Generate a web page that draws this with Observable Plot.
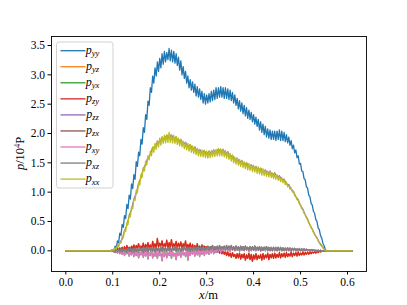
<!DOCTYPE html>
<html><head><meta charset="utf-8">
<script src="https://cdn.jsdelivr.net/npm/d3@7"></script>
<script src="https://cdn.jsdelivr.net/npm/@observablehq/plot@0.6"></script>
<style>
body{margin:0;background:#fff} svg{display:block}
#chart svg text, #chart svg tspan { font-family: 'Liberation Serif', 'DejaVu Serif', serif !important; }
</style>
</head><body><div id="chart"></div>
<script>
// sampling: flat zero from xFirst to xStart, samples every step, flat zero up to xEnd
const xFirst = 0.0, xStart = 0.095, xEnd = 0.61;
const stepFine = 0.0025, stepCoarse = 0.005;
const xTicks = [0.0, 0.1, 0.2, 0.3, 0.4, 0.5, 0.6];
const yTicks = [0.0, 0.5, 1.0, 1.5, 2.0, 2.5, 3.0, 3.5];
const seriesNames = ["yy","yz","yx","zy","zz","zx","xy","xz","xx"];
const seriesColors = ["#1f77b4","#ff7f0e","#2ca02c","#d62728","#9467bd","#8c564b","#e377c2","#7f7f7f","#bcbd22"];

// fine sampling (0.0025)
const p_yy = [0.00,0.00,0.02,0.01,0.08,0.05,0.17,0.14,0.30,0.26,
0.45,0.40,0.60,0.55,0.79,0.72,0.95,0.88,1.14,1.06,
1.30,1.22,1.52,1.44,1.68,1.62,1.90,1.82,2.10,2.02,
2.32,2.24,2.55,2.48,2.78,2.70,2.98,2.86,3.12,2.98,
3.22,3.06,3.28,3.12,3.36,3.18,3.40,3.22,3.38,3.26,
3.45,3.24,3.42,3.22,3.40,3.20,3.36,3.16,3.30,3.08,
3.24,3.00,3.14,2.94,3.06,2.86,2.98,2.78,2.92,2.74,
2.88,2.70,2.84,2.64,2.80,2.62,2.76,2.58,2.72,2.52,
2.68,2.50,2.66,2.52,2.68,2.54,2.72,2.56,2.74,2.58,
2.78,2.60,2.78,2.62,2.80,2.62,2.78,2.60,2.78,2.60,
2.76,2.58,2.74,2.56,2.70,2.52,2.66,2.48,2.60,2.42,
2.56,2.38,2.52,2.34,2.48,2.30,2.44,2.26,2.40,2.24,
2.36,2.20,2.32,2.16,2.28,2.12,2.24,2.06,2.20,2.02,
2.16,1.98,2.12,1.94,2.08,1.92,2.06,1.90,2.04,1.90,
2.04,1.88,2.04,1.90,2.06,1.88,2.04,1.88,2.02,1.86,
1.98,1.84,1.94,1.80,1.88,1.74,1.80,1.67,1.72,1.59,
1.62,1.48,1.49,1.36,1.35,1.23,1.21,1.09,1.07,0.95,
0.92,0.81,0.78,0.67,0.64,0.53,0.50,0.39,0.36,0.26,
0.22,0.13,0.09,0.03,0.00];
const p_xx = [0.00,0.00,0.02,0.01,0.05,0.03,0.09,0.07,0.15,0.13,
0.24,0.22,0.35,0.33,0.48,0.45,0.61,0.58,0.75,0.72,
0.89,0.86,1.03,0.99,1.16,1.12,1.30,1.25,1.42,1.36,
1.53,1.46,1.62,1.55,1.70,1.62,1.77,1.68,1.83,1.73,
1.88,1.77,1.92,1.80,1.95,1.83,1.97,1.84,1.98,1.85,
2.02,1.85,1.98,1.84,1.97,1.83,1.95,1.81,1.92,1.79,
1.90,1.77,1.87,1.74,1.85,1.72,1.83,1.70,1.81,1.68,
1.79,1.66,1.77,1.64,1.75,1.62,1.73,1.61,1.72,1.60,
1.71,1.59,1.70,1.58,1.70,1.59,1.71,1.60,1.72,1.61,
1.73,1.62,1.74,1.62,1.74,1.62,1.73,1.60,1.71,1.58,
1.69,1.56,1.66,1.53,1.63,1.50,1.60,1.48,1.58,1.46,
1.56,1.44,1.54,1.42,1.52,1.40,1.50,1.38,1.49,1.37,
1.47,1.35,1.46,1.34,1.44,1.32,1.43,1.31,1.41,1.29,
1.40,1.28,1.38,1.27,1.36,1.26,1.35,1.25,1.33,1.23,
1.32,1.22,1.30,1.20,1.27,1.18,1.25,1.16,1.21,1.13,
1.17,1.09,1.12,1.05,1.07,1.00,1.01,0.94,0.93,0.87,
0.86,0.80,0.78,0.72,0.70,0.64,0.62,0.56,0.53,0.47,
0.45,0.39,0.37,0.31,0.29,0.24,0.22,0.17,0.15,0.10,
0.08,0.05,0.03,0.01,0.00];
const p_zy = [0.00,0.00,0.01,-0.02,0.03,-0.01,0.04,0.00,0.05,-0.01,
0.06,0.01,0.07,0.00,0.09,0.02,0.06,-0.01,0.08,0.03,
0.10,0.02,0.09,0.04,0.12,0.03,0.08,0.05,0.13,0.02,
0.11,0.04,0.14,0.05,0.10,0.03,0.16,0.06,0.12,0.04,
0.21,0.06,0.13,0.08,0.17,0.05,0.12,0.07,0.18,0.04,
0.14,0.06,0.19,0.05,0.12,0.08,0.16,0.04,0.13,0.07,
0.15,0.04,0.12,0.06,0.17,0.03,0.11,0.05,0.13,0.02,
0.11,0.04,0.09,0.02,0.12,0.03,0.08,0.01,0.10,0.02,
0.08,0.00,0.07,0.02,0.06,-0.01,0.07,0.01,0.04,-0.02,
0.05,-0.02,0.03,-0.04,0.02,-0.05,0.00,-0.06,-0.01,-0.08,
-0.02,-0.09,-0.04,-0.11,-0.03,-0.10,-0.06,-0.13,-0.05,-0.12,
-0.04,-0.14,-0.06,-0.12,-0.05,-0.16,-0.07,-0.13,-0.04,-0.15,
-0.06,-0.18,-0.07,-0.14,-0.05,-0.15,-0.08,-0.13,-0.06,-0.16,
-0.05,-0.14,-0.07,-0.12,-0.04,-0.15,-0.06,-0.12,-0.05,-0.13,
-0.04,-0.12,-0.06,-0.11,-0.03,-0.12,-0.05,-0.10,-0.04,-0.11,
-0.03,-0.10,-0.05,-0.09,-0.02,-0.10,-0.04,-0.08,-0.03,-0.09,
-0.02,-0.08,-0.04,-0.07,-0.02,-0.07,-0.03,-0.06,-0.02,-0.06,
-0.02,-0.05,-0.02,-0.04,-0.01,-0.04,-0.01,-0.03,-0.01,-0.02,
-0.01,-0.01,0.00,0.00,0.00];
const p_xy = [0.00,0.00,-0.01,0.01,-0.03,0.00,-0.04,0.01,-0.05,-0.01,
-0.06,0.00,-0.08,-0.02,-0.05,0.01,-0.09,-0.02,-0.07,0.00,
-0.10,-0.01,-0.08,0.00,-0.12,-0.03,-0.07,0.01,-0.11,-0.02,
-0.09,0.00,-0.14,-0.03,-0.08,0.01,-0.12,-0.04,-0.09,0.00,
-0.13,-0.02,-0.08,-0.04,-0.17,-0.01,-0.10,0.00,-0.12,-0.03,
-0.08,0.01,-0.13,-0.02,-0.09,-0.04,-0.15,0.00,-0.08,-0.02,
-0.11,0.01,-0.07,-0.03,-0.10,0.02,-0.16,-0.01,-0.08,0.01,
-0.06,0.02,-0.09,-0.01,-0.07,0.03,-0.10,0.00,-0.06,0.02,
-0.08,0.01,-0.05,0.03,-0.06,0.02,-0.04,0.04,-0.05,0.02,
-0.03,0.04,-0.02,0.05,-0.03,0.06,-0.01,0.05,0.00,0.07,
0.00,0.06,-0.01,0.07,0.01,0.05,0.00,0.08,0.01,0.06,
-0.01,0.07,0.01,0.06,0.00,0.08,0.01,0.05,-0.01,0.07,
0.00,0.06,0.01,0.08,0.00,0.05,0.02,0.07,0.00,0.06,
0.01,0.06,0.00,0.07,0.01,0.05,0.00,0.06,0.01,0.05,
0.00,0.06,0.01,0.05,0.00,0.06,0.01,0.04,0.00,0.05,
0.01,0.04,0.00,0.05,0.01,0.04,0.00,0.04,0.01,0.03,
0.00,0.04,0.01,0.03,0.00,0.03,0.01,0.03,0.00,0.02,
0.01,0.02,0.00,0.02,0.00,0.01,0.00,0.01,0.00,0.01,
0.00,0.00,0.00,0.00,0.00];
const p_xz = [0.00,0.01,-0.01,0.02,-0.02,0.02,-0.01,0.03,-0.02,0.03,
-0.02,0.04,-0.01,0.03,-0.03,0.04,-0.01,0.05,-0.02,0.04,
-0.03,0.05,-0.01,0.04,-0.02,0.06,0.00,0.04,-0.03,0.05,
-0.01,0.06,-0.02,0.05,0.00,0.06,-0.01,0.05,-0.02,0.06,
0.00,0.05,-0.02,0.06,-0.01,0.07,0.00,0.05,-0.01,0.06,
0.00,0.06,-0.01,0.05,0.01,0.07,-0.01,0.06,0.00,0.05,
-0.01,0.06,0.00,0.07,0.01,0.05,0.00,0.06,-0.01,0.06,
0.00,0.07,0.01,0.06,0.00,0.07,0.01,0.06,0.01,0.08,
0.01,0.07,0.02,0.08,0.01,0.07,0.02,0.09,0.01,0.07,
0.02,0.08,0.01,0.09,0.02,0.07,0.03,0.08,0.02,0.09,
0.02,0.08,0.03,0.09,0.02,0.07,0.01,0.08,0.02,0.07,
0.01,0.08,0.02,0.07,0.01,0.08,0.02,0.06,0.01,0.07,
0.02,0.07,0.01,0.08,0.02,0.06,0.01,0.07,0.00,0.06,
0.01,0.06,0.02,0.07,0.00,0.06,0.01,0.05,0.00,0.06,
0.01,0.05,0.00,0.06,0.01,0.05,0.00,0.05,0.01,0.04,
0.00,0.05,0.01,0.04,0.00,0.04,0.01,0.04,0.00,0.03,
0.01,0.03,0.00,0.03,0.01,0.03,0.00,0.02,0.01,0.02,
0.00,0.02,0.01,0.02,0.00,0.01,0.00,0.01,0.00,0.01,
0.00,0.00,0.00,0.00,0.00];
// coarse sampling (0.005), mostly hidden beneath p_xx
const p_zz = [0.00,0.01,0.04,0.06,0.14,0.20,0.34,0.43,0.60,0.70,
0.88,0.98,1.15,1.24,1.40,1.47,1.60,1.64,1.76,1.77,
1.86,1.85,1.93,1.90,1.97,1.92,1.98,1.90,1.94,1.86,
1.90,1.81,1.85,1.77,1.81,1.73,1.77,1.69,1.73,1.66,
1.71,1.64,1.70,1.65,1.72,1.67,1.74,1.68,1.73,1.65,
1.69,1.60,1.63,1.54,1.58,1.50,1.54,1.46,1.50,1.43,
1.47,1.40,1.44,1.37,1.41,1.34,1.38,1.31,1.36,1.28,
1.33,1.25,1.28,1.21,1.22,1.14,1.13,1.05,1.01,0.92,
0.87,0.77,0.71,0.61,0.54,0.44,0.37,0.28,0.22,0.14,
0.09,0.03,0.00];
// symmetric components, hidden beneath their partners in the picture
const p_yz = p_zy, p_yx = p_xy, p_zx = p_xz;

const seriesValues = {yy:p_yy, yz:p_yz, yx:p_yx, zy:p_zy, zz:p_zz, zx:p_zx, xy:p_xy, xz:p_xz, xx:p_xx};
const seriesStep = {yy:stepFine, yz:stepFine, yx:stepFine, zy:stepFine, zz:stepCoarse, zx:stepFine, xy:stepFine, xz:stepFine, xx:stepFine};

function toRows(name) {
  const step = seriesStep[name];
  const rows = [{x: xFirst, y: 0}];
  seriesValues[name].forEach((v, i) => rows.push({x: xStart + i * step, y: v}));
  rows.push({x: xEnd, y: 0});
  return rows;
}

const font = "'Liberation Serif', 'DejaVu Serif', serif";
const lineMarks = seriesNames.map((n, i) =>
  Plot.line(toRows(n), {x: "x", y: "y", stroke: seriesColors[i], strokeWidth: 1.3}));

const chart = Plot.plot({
  width: 407, height: 305,
  marginLeft: 51, marginRight: 41, marginTop: 36, marginBottom: 34,
  style: {fontFamily: font, fontSize: "11px", color: "black", background: "white"},
  x: {domain: [-0.0305, 0.6405]},
  y: {domain: [-0.353, 3.654]},
  marks: [
    ...lineMarks,
    Plot.frame({stroke: "black", strokeWidth: 0.9}),
    Plot.axisX({ticks: xTicks, tickFormat: d3.format(".1f"), tickSize: 3.5, tickPadding: 3, label: null, fontSize: 11.5}),
    Plot.axisY({ticks: yTicks, tickFormat: d3.format(".1f"), tickSize: 3.5, tickPadding: 3, label: null, fontSize: 11.5})
  ]
});
document.getElementById("chart").appendChild(chart);

const svg = d3.select(chart);
// axis labels
const xl = svg.append("text").attr("x", 208.5).attr("y", 299).attr("text-anchor", "middle")
  .attr("font-size", 12.5);
xl.append("tspan").attr("font-style", "italic").text("x");
xl.append("tspan").text("/m");

const yl = svg.append("text").attr("transform", "translate(24,153.4) rotate(-90)").attr("text-anchor", "middle")
  .attr("font-size", 12.5);
yl.append("tspan").attr("font-style", "italic").text("p");
yl.append("tspan").text("/10");
yl.append("tspan").attr("font-size", 8.5).attr("dy", -4.5).text("4");
yl.append("tspan").attr("dy", 4.5).text("P");

// legend
const lg = svg.append("g");
lg.append("rect").attr("x", 56.5).attr("y", 42).attr("width", 56.5).attr("height", 146)
  .attr("rx", 2.5).attr("fill", "white").attr("fill-opacity", 0.8).attr("stroke", "#cccccc").attr("stroke-width", 0.9);
seriesNames.forEach((n, i) => {
  const cy = 50.7 + i * 16.05;
  lg.append("line").attr("x1", 60.5).attr("x2", 85.5).attr("y1", cy).attr("y2", cy)
    .attr("stroke", seriesColors[i]).attr("stroke-width", 1.3);
  const t = lg.append("text").attr("x", 92.5).attr("y", cy + 3).attr("font-size", 12);
  t.append("tspan").attr("font-style", "italic").text("p");
  t.append("tspan").attr("font-style", "italic").attr("font-size", 8.5).attr("dy", 2.5).text(n);
});
// make sure every text uses the serif face
svg.selectAll("text").style("font-family", "'Liberation Serif', 'DejaVu Serif', serif");
</script>
</body></html>
